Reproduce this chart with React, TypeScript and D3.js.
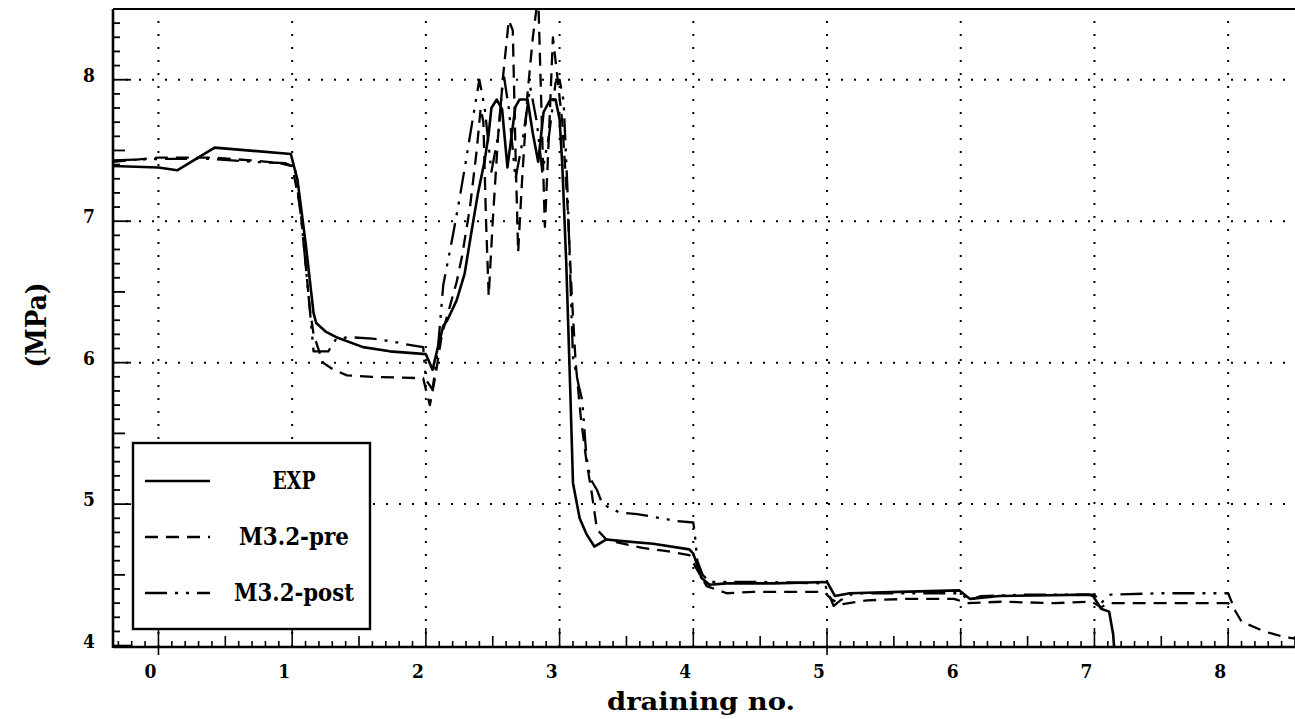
import React from "react";
import * as d3 from "d3";

type P = [number, number];

const expData: P[] = [
  [-0.34, 7.39], [0.0, 7.38], [0.14, 7.36], [0.42, 7.52], [0.99, 7.475], [1.04, 7.29],
  [1.1, 6.85], [1.16, 6.35], [1.18, 6.28], [1.25, 6.22], [1.33, 6.18], [1.53, 6.11],
  [1.73, 6.08], [2.0, 6.06], [2.05, 5.95], [2.09, 6.11], [2.13, 6.26], [2.16, 6.3],
  [2.23, 6.44], [2.29, 6.63], [2.34, 6.92], [2.39, 7.2], [2.44, 7.43], [2.47, 7.62],
  [2.49, 7.8], [2.53, 7.86], [2.57, 7.79], [2.61, 7.38], [2.64, 7.6], [2.67, 7.81],
  [2.7, 7.86], [2.76, 7.86], [2.8, 7.62], [2.84, 7.42], [2.88, 7.77], [2.93, 7.86],
  [2.97, 7.86], [3.0, 7.72], [3.02, 7.4], [3.05, 6.7], [3.08, 5.8], [3.1, 5.15],
  [3.15, 4.9], [3.2, 4.79], [3.26, 4.7], [3.35, 4.75], [3.45, 4.74], [3.7, 4.72],
  [3.97, 4.68], [4.0, 4.65], [4.06, 4.48], [4.12, 4.43], [4.25, 4.44], [4.6, 4.44],
  [5.0, 4.45], [5.06, 4.35], [5.17, 4.37], [5.54, 4.38], [5.99, 4.39], [6.07, 4.33],
  [6.29, 4.35], [6.96, 4.36], [6.99, 4.35], [7.05, 4.26], [7.11, 4.24], [7.14, 4.08],
  [7.15, 3.95],
];

const preData: P[] = [
  [-0.34, 7.42], [0.0, 7.45], [0.4, 7.45], [0.69, 7.43], [0.91, 7.41], [1.0, 7.39],
  [1.06, 7.1], [1.13, 6.4], [1.16, 6.2], [1.23, 6.0], [1.31, 5.95], [1.41, 5.91],
  [1.6, 5.9], [1.98, 5.89], [2.0, 5.81], [2.03, 5.7], [2.07, 5.9], [2.12, 6.2],
  [2.18, 6.4], [2.23, 6.57], [2.27, 6.75], [2.33, 7.1], [2.38, 7.5], [2.41, 7.8],
  [2.43, 7.7], [2.45, 7.0], [2.47, 6.47], [2.5, 7.0], [2.54, 7.6], [2.58, 8.05],
  [2.62, 8.42], [2.65, 8.35], [2.67, 7.5], [2.69, 6.78], [2.72, 7.3], [2.76, 7.9],
  [2.8, 8.3], [2.84, 8.6], [2.87, 7.6], [2.89, 6.96], [2.92, 7.6], [2.95, 8.3],
  [2.98, 8.05], [3.02, 7.7], [3.06, 7.1], [3.09, 6.5], [3.12, 6.0], [3.16, 5.6],
  [3.2, 5.31], [3.24, 5.08], [3.28, 4.82], [3.35, 4.75], [3.43, 4.73], [3.62, 4.69],
  [3.79, 4.67], [3.97, 4.64], [4.02, 4.55], [4.05, 4.5], [4.1, 4.42], [4.25, 4.37],
  [4.45, 4.38], [4.8, 4.38], [4.98, 4.38], [5.03, 4.33], [5.1, 4.29], [5.3, 4.32],
  [5.6, 4.33], [5.95, 4.33], [6.05, 4.3], [6.3, 4.31], [6.7, 4.3], [6.98, 4.31],
  [7.05, 4.27], [7.1, 4.3], [7.5, 4.3], [8.0, 4.3], [8.05, 4.25], [8.1, 4.17],
  [8.27, 4.1], [8.42, 4.06], [8.5, 4.05],
];

const postData: P[] = [
  [-0.34, 7.43], [0.0, 7.44], [0.4, 7.44], [0.7, 7.42], [0.95, 7.41], [1.02, 7.38],
  [1.07, 7.0], [1.12, 6.5], [1.16, 6.08], [1.27, 6.08], [1.33, 6.17], [1.43, 6.18],
  [1.6, 6.17], [1.75, 6.15], [1.85, 6.13], [1.98, 6.11], [2.0, 5.88], [2.05, 5.81],
  [2.09, 6.1], [2.13, 6.55], [2.2, 6.89], [2.25, 7.15], [2.3, 7.43], [2.35, 7.72],
  [2.4, 8.0], [2.44, 7.8], [2.49, 7.35], [2.54, 7.6], [2.58, 8.05], [2.62, 7.8],
  [2.67, 7.3], [2.72, 7.55], [2.78, 7.95], [2.83, 7.7], [2.87, 7.35], [2.92, 7.6],
  [2.97, 7.98], [3.0, 8.0], [3.03, 7.85], [3.06, 7.2], [3.08, 6.6], [3.1, 6.04],
  [3.14, 5.85], [3.17, 5.73], [3.2, 5.34], [3.23, 5.18], [3.28, 5.1], [3.32, 5.0],
  [3.45, 4.94], [3.58, 4.93], [3.7, 4.91], [3.88, 4.88], [4.0, 4.87], [4.01, 4.8],
  [4.03, 4.6], [4.07, 4.5], [4.12, 4.45], [4.5, 4.45], [4.98, 4.44], [5.05, 4.28],
  [5.1, 4.32], [5.2, 4.37], [5.6, 4.37], [6.0, 4.37], [6.06, 4.32], [6.15, 4.35],
  [6.5, 4.36], [7.0, 4.36], [7.05, 4.3], [7.08, 4.33], [7.12, 4.36], [7.5, 4.37],
  [8.0, 4.37], [8.03, 4.3],
];

const xTicks = [0, 1, 2, 3, 4, 5, 6, 7, 8];
const yTicks = [4, 5, 6, 7, 8];
const yGrid = [5, 6, 7, 8];
const legendLabels = ["EXP", "M3.2-pre", "M3.2-post"];
const xTitle = "draining no.";
const yTitle = "(MPa)";

const FONT = "'DejaVu Serif Condensed', 'Liberation Serif', 'DejaVu Serif', serif";

export default function App() {
  const W = 1295;
  const H = 719;
  const left = 113;
  const right = 1295;
  const top = 9;
  const bottom = 647;

  const x = d3.scaleLinear().domain([-0.34, 8.5]).range([left, right]);
  const y = d3.scaleLinear().domain([3.99, 8.5]).range([bottom, top]);
  const line = d3
    .line<P>()
    .x((d) => x(d[0]))
    .y((d) => y(d[1]));

  const xMinor = d3.range(-3, 86).map((i) => ({ v: i / 10, i }));
  const yMinor = d3.range(40, 86).map((i) => ({ v: i / 10, i }));

  const series = [
    { data: expData, dash: "none", w: 2.6 },
    { data: preData, dash: "13 8", w: 2.3 },
    { data: postData, dash: "22 8 3 8 3 8", w: 2.3 },
  ];

  const legX0 = 133;
  const legY0 = 443;
  const legW = 237;
  const legH = 186;
  const legRows = [481, 537, 593];
  const legTextW = [43, 110, 120];

  return (
    <svg
      width={W}
      height={H}
      style={{ position: "absolute", left: 0, top: 0, display: "block", background: "#fff" }}
    >
      <defs>
        <clipPath id="plotClip">
          <rect x={left} y={top} width={right - left} height={bottom - top + 1} />
        </clipPath>
      </defs>
      <rect x={0} y={0} width={W} height={H} fill="#fff" />

      {/* dotted grid */}
      <g stroke="#000" strokeWidth={2} strokeDasharray="2 11" fill="none">
        {xTicks.map((t) => (
          <line key={"gx" + t} x1={x(t)} x2={x(t)} y1={bottom} y2={top} />
        ))}
        {yGrid.map((t) => (
          <line key={"gy" + t} x1={left} x2={right} y1={y(t)} y2={y(t)} />
        ))}
      </g>

      {/* axes frame */}
      <g stroke="#000" fill="none">
        <line x1={left} x2={right} y1={top} y2={top} strokeWidth={2.2} />
        <line x1={left} x2={left} y1={top} y2={bottom + 1} strokeWidth={2.6} />
        <line x1={left} x2={right} y1={bottom} y2={bottom} strokeWidth={2.6} />
      </g>

      {/* x ticks */}
      <g stroke="#000" strokeWidth={1.6}>
        {xMinor.map(({ v, i }) => {
          const len = i % 10 === 0 ? 19 : i % 5 === 0 ? 11 : 6;
          return <line key={"xt" + i} x1={x(v)} x2={x(v)} y1={bottom} y2={bottom - len} />;
        })}
        {[0, 5].map((t) => (
          <line key={"xb" + t} x1={x(t)} x2={x(t)} y1={bottom} y2={bottom + 8} />
        ))}
      </g>

      {/* y ticks */}
      <g stroke="#000" strokeWidth={1.8}>
        {yMinor.map(({ v, i }) => {
          const len = i % 10 === 0 ? 18 : i % 5 === 0 ? 12 : 7;
          return <line key={"yt" + i} x1={left} x2={left + len} y1={y(v)} y2={y(v)} />;
        })}
      </g>

      {/* series */}
      <g clipPath="url(#plotClip)" fill="none" stroke="#000" strokeLinejoin="round">
        {series.map((s, k) => (
          <path
            key={"s" + k}
            d={line(s.data) || ""}
            strokeWidth={s.w}
            strokeDasharray={s.dash}
          />
        ))}
      </g>

      {/* tick labels */}
      <g fontFamily={FONT} fontWeight="bold" fontSize={19} fill="#000">
        {xTicks.map((t) => (
          <text key={"xl" + t} x={x(t) - 8} y={678} textAnchor="middle">
            {t}
          </text>
        ))}
        {yTicks.map((t) => (
          <text key={"yl" + t} x={95} y={y(t) + 2} textAnchor="end">
            {t}
          </text>
        ))}
      </g>

      {/* axis titles */}
      <text
        x={607}
        y={710}
        fontFamily={FONT}
        fontWeight="bold"
        fontSize={24}
        textLength={188}
        lengthAdjust="spacingAndGlyphs"
      >
        {xTitle}
      </text>
      <text
        transform="translate(46,325) rotate(-90)"
        textAnchor="middle"
        fontFamily={FONT}
        fontWeight="bold"
        fontSize={28}
        textLength={85}
        lengthAdjust="spacingAndGlyphs"
      >
        {yTitle}
      </text>

      {/* legend */}
      <g>
        <rect
          x={legX0}
          y={legY0}
          width={legW}
          height={legH}
          fill="#fff"
          stroke="#000"
          strokeWidth={2.4}
        />
        {legendLabels.map((lab, k) => (
          <g key={"lg" + k}>
            <line
              x1={145}
              x2={210}
              y1={legRows[k]}
              y2={legRows[k]}
              stroke="#000"
              strokeWidth={series[k].w}
              strokeDasharray={series[k].dash}
            />
            <text
              x={294}
              y={legRows[k] + 8}
              textAnchor="middle"
              fontFamily={FONT}
              fontWeight="bold"
              fontSize={24}
              textLength={legTextW[k]}
              lengthAdjust="spacingAndGlyphs"
            >
              {lab}
            </text>
          </g>
        ))}
      </g>
    </svg>
  );
}
